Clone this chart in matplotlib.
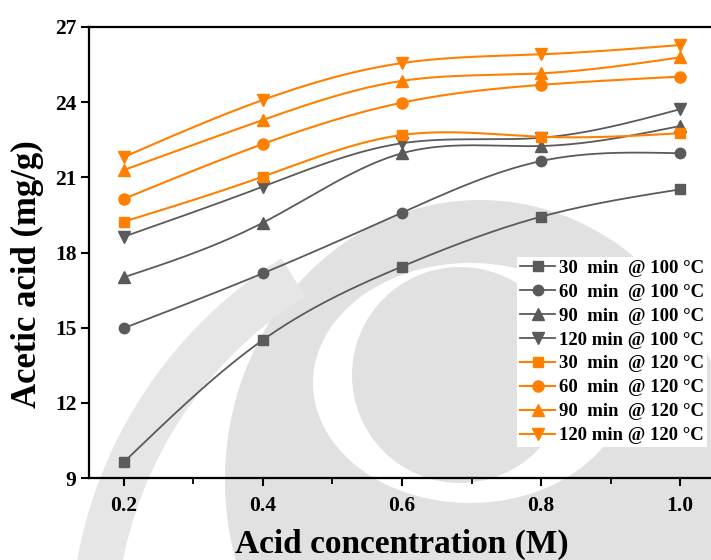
import numpy as np
import matplotlib.pyplot as plt
from matplotlib.lines import Line2D
from matplotlib.patches import Circle, PathPatch, Polygon
from matplotlib.path import Path

plt.rcParams['font.family'] = ['Liberation Serif', 'DejaVu Serif']
plt.rcParams['font.weight'] = 'bold'

# acid concentration (M)
conc = [0.2, 0.4, 0.6, 0.8, 1.0]

# acetic acid yield (mg/g) at 100 °C
y100_30 = [9.63, 14.51, 17.44, 19.43, 20.52]
y100_60 = [14.98, 17.17, 19.59, 21.65, 21.96]
y100_90 = [17.01, 19.19, 21.96, 22.25, 23.05]
y100_120 = [18.63, 20.63, 22.36, 22.58, 23.72]

# acetic acid yield (mg/g) at 120 °C
y120_30 = [19.23, 21.03, 22.69, 22.62, 22.76]
y120_60 = [20.14, 22.33, 23.98, 24.69, 25.02]
y120_90 = [21.29, 23.29, 24.85, 25.15, 25.79]
y120_120 = [21.81, 24.09, 25.56, 25.91, 26.28]

labels = ["30  min  @ 100 °C", "60  min  @ 100 °C", "90  min  @ 100 °C", "120 min @ 100 °C",
          "30  min  @ 120 °C", "60  min  @ 120 °C", "90  min  @ 120 °C", "120 min @ 120 °C"]

GREY = '#5a5a5a'
ORANGE = '#ff8000'


def spline(x, y, n=200):
    # natural cubic spline through the points, used for the connecting line
    x = np.asarray(x, float)
    y = np.asarray(y, float)
    h = np.diff(x)
    m = len(x)
    A = np.zeros((m - 2, m - 2))
    for i in range(m - 2):
        A[i, i] = 2 * (h[i] + h[i + 1])
        if i > 0:
            A[i, i - 1] = h[i]
        if i < m - 3:
            A[i, i + 1] = h[i + 1]
    rhs = 6 * ((y[2:] - y[1:-1]) / h[1:] - (y[1:-1] - y[:-2]) / h[:-1])
    M = np.zeros(m)
    M[1:-1] = np.linalg.solve(A, rhs)
    xs = np.linspace(x[0], x[-1], n)
    k = np.clip(np.searchsorted(x, xs) - 1, 0, m - 2)
    dx1 = x[k + 1] - xs
    dx0 = xs - x[k]
    hk = h[k]
    ys = (M[k] * dx1 ** 3 + M[k + 1] * dx0 ** 3) / (6 * hk) \
        + (y[k] / hk - M[k] * hk / 6) * dx1 + (y[k + 1] / hk - M[k + 1] * hk / 6) * dx0
    return xs, ys


def ellipse_pts(cx, cy, rx, ry, a0=0, a1=360, n=240):
    t = np.radians(np.linspace(a0, a1, n))
    return np.column_stack([cx + rx * np.cos(t), cy - ry * np.sin(t)])


fig = plt.figure(figsize=(7.11, 5.6), dpi=100)

# faint logo in the background (pixel coordinates, y downwards)
bg = fig.add_axes([0, 0, 1, 1], zorder=0)
bg.set_xlim(0, 711)
bg.set_ylim(560, 0)
bg.axis('off')
wm = '#e1e1e1'
bg.add_patch(Circle((460, 375), 108, color=wm, lw=0))
outer = ellipse_pts(480, 480, 255, 280)
inner = ellipse_pts(470, 383, 157, 120)[::-1]
ring = Path.make_compound_path(Path(outer, closed=True), Path(inner, closed=True))
bg.add_patch(PathPatch(ring, color=wm, lw=0))
band = np.vstack([ellipse_pts(520, 640, 450, 450, 122, 172),
                  ellipse_pts(520, 640, 405, 405, 172, 122)])
bg.add_patch(Polygon(band, closed=True, color='#e6e6e6', lw=0))

ax = fig.add_axes([89 / 711, 82 / 560, 626 / 711, 451 / 560], zorder=1)
ax.set_facecolor('none')

series = [(y100_30, GREY, 's', 7), (y100_60, GREY, 'o', 7.5), (y100_90, GREY, '^', 8.5),
          (y100_120, GREY, 'v', 8.5), (y120_30, ORANGE, 's', 7), (y120_60, ORANGE, 'o', 8),
          (y120_90, ORANGE, '^', 9), (y120_120, ORANGE, 'v', 9)]

handles = []
for (vals, col, mk, ms), lab in zip(series, labels):
    lw = 1.3 if col == GREY else 1.5
    xs, ys = spline(conc, vals)
    ax.plot(xs, ys, color=col, lw=lw, zorder=2)
    ax.plot(conc, vals, ls='none', marker=mk, ms=ms, color=col, mec=col, zorder=3)
    handles.append(Line2D([], [], color=col, lw=lw, marker=mk, ms=ms, mec=col))

ax.set_xlim(0.15, 1.05)
ax.set_ylim(9, 27)
ax.set_xticks(conc)
ax.set_xticks([0.3, 0.5, 0.7, 0.9], minor=True)
ax.set_xticklabels(['0.2', '0.4', '0.6', '0.8', '1.0'])
ax.set_yticks([9, 12, 15, 18, 21, 24, 27])
for s in ax.spines.values():
    s.set_linewidth(1.6)
ax.tick_params(which='major', direction='out', length=6, width=1.5, labelsize=15.5)
ax.tick_params(which='minor', direction='out', length=4, width=1.3)
ax.tick_params(axis='x', pad=7)
ax.tick_params(axis='y', pad=3)

ax.set_xlabel('Acid concentration (M)', fontsize=24, fontweight='bold')
ax.xaxis.label.set_va('baseline')
ax.xaxis.set_label_coords(0.5, -0.166)
ax.set_ylabel('Acetic acid (mg/g)', fontsize=25, fontweight='bold')
ax.yaxis.set_label_coords(-0.072, 0.453)

leg = ax.legend(handles, labels, loc='upper left', bbox_to_anchor=(0.684, 0.49),
                frameon=True, facecolor='white', edgecolor='none', framealpha=1,
                fancybox=False, fontsize=13.5, handlelength=1.87, handletextpad=0.2,
                labelspacing=0.36, borderpad=0.15, borderaxespad=0)
leg.set_zorder(5)

fig.savefig('out.png', dpi=100)
